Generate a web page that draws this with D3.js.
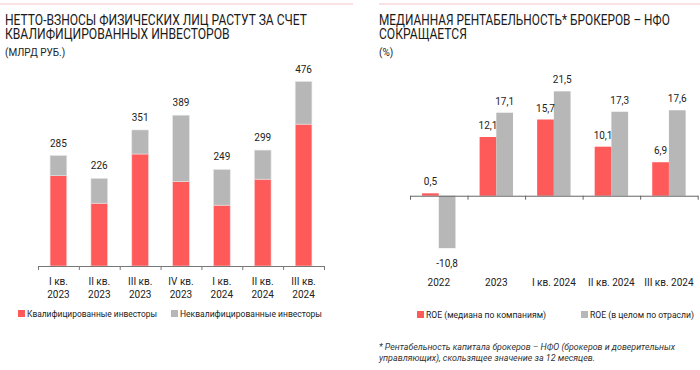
<!DOCTYPE html>
<html>
<head>
<meta charset="utf-8">
<script src="https://cdn.jsdelivr.net/npm/d3@7"></script>
<style>
  body { margin: 0; background: #fff; }
  text { font-family: Roboto, "Noto Sans", sans-serif; fill: #222; }
  .title { font-family: "Liberation Sans Narrow", Roboto, sans-serif; font-size: 14.5px; fill: #1a1a1a; }
  .unit { font-family: "Liberation Sans Narrow", Roboto, sans-serif; font-size: 10px; }
  .val { font-size: 10px; text-anchor: middle; }
  .tick-lbl { font-size: 10px; text-anchor: middle; }
  .legend { font-size: 9px; }
  .note { font-size: 9px; font-style: italic; fill: #333; }
</style>
</head>
<body>
<script>
// Left chart: net contributions of individuals (bln RUB)
let quarters = [["I кв.", "2023"], ["II кв.", "2023"], ["III кв.", "2023"], ["IV кв.", "2023"],
                ["I кв.", "2024"], ["II кв.", "2024"], ["III кв.", "2024"]];
let totals = [285, 226, 351, 389, 249, 299, 476];
let qualified = [233, 162, 289, 218, 157, 224, 366];
let unqualified = [52, 64, 62, 171, 92, 75, 110];

// Right chart: median ROE of brokers (%)
let periods = ["2022", "2023", "I кв. 2024", "II кв. 2024", "III кв. 2024"];
let roeMedian = [0.5, 12.1, 15.7, 10.1, 6.9];
let roeIndustry = [-10.8, 17.1, 21.5, 17.3, 17.6];

let red = "#ff5a5a";
let gray = "#b7b7b7";
let fmt = v => String(v).replace(".", ",");

let svg = d3.select("body")
            .append("svg")
            .attr("width", 700)
            .attr("height", 370);

// pink rules above titles
svg.append("line").attr("x1", 0).attr("x2", 353).attr("y1", 4).attr("y2", 4)
   .attr("stroke", "#f6c3c7").attr("stroke-width", 1.2);
svg.append("line").attr("x1", 379).attr("x2", 700).attr("y1", 4).attr("y2", 4)
   .attr("stroke", "#f6c3c7").attr("stroke-width", 1.2);

// titles, squeezed horizontally to the reference widths
let leftTitle = ["НЕТТО-ВЗНОСЫ ФИЗИЧЕСКИХ ЛИЦ РАСТУТ ЗА СЧЕТ", "КВАЛИФИЦИРОВАННЫХ ИНВЕСТОРОВ"];
let rightTitle = ["МЕДИАННАЯ РЕНТАБЕЛЬНОСТЬ* БРОКЕРОВ – НФО", "СОКРАЩАЕТСЯ"];
let leftWidths = [302, 225];
let rightWidths = [291, 88];

function titleLine(t, x, y, w) {
    let el = svg.append("text").attr("class", "title").attr("x", 0).attr("y", 0).text(t);
    let natural = el.node().getComputedTextLength();
    el.attr("transform", `translate(${x}, ${y}) scale(${w / natural}, 1)`);
}
leftTitle.forEach((t, i) => titleLine(t, 5, 25 + i * 14, leftWidths[i]));
rightTitle.forEach((t, i) => titleLine(t, 379, 25 + i * 14, rightWidths[i]));

svg.append("text").attr("class", "unit").attr("x", 5).attr("y", 56).text("(МЛРД РУБ.)");
svg.append("text").attr("class", "unit").attr("x", 379).attr("y", 56).text("(%)");

// ---------- left chart ----------
let xL = d3.scaleLinear().domain([0, quarters.length]).range([38, 324]);
let barW = 16.7;
let yL = d3.scaleLinear().domain([0, 500]).range([266, 72.2]);

let left = svg.append("g");

// qualified (red) segments
left.selectAll("rect.q")
    .data(qualified)
    .enter()
    .append("rect")
    .attr("class", "q")
    .attr("x", (d, i) => xL(i + 0.5) - barW / 2)
    .attr("width", barW)
    .attr("y", d => yL(d))
    .attr("height", d => yL(0) - yL(d))
    .attr("fill", red)
    .attr("stroke", "#ffd6d6")
    .attr("stroke-width", 0.6);

// unqualified (gray) segments
left.selectAll("rect.u")
    .data(unqualified)
    .enter()
    .append("rect")
    .attr("class", "u")
    .attr("x", (d, i) => xL(i + 0.5) - barW / 2)
    .attr("width", barW)
    .attr("y", (d, i) => yL(qualified[i] + d))
    .attr("height", (d, i) => yL(qualified[i]) - yL(qualified[i] + d))
    .attr("fill", gray)
    .attr("stroke", "#e4e4e4")
    .attr("stroke-width", 0.6);

// totals
left.selectAll("text.val")
    .data(totals)
    .enter()
    .append("text")
    .attr("class", "val")
    .attr("x", (d, i) => xL(i + 0.5))
    .attr("y", d => yL(d) - 9)
    .text(d => d);

// axis with ticks at category boundaries
let axisL = left.append("g")
    .attr("transform", `translate(0, ${yL(0)})`)
    .call(d3.axisBottom(xL).tickValues(d3.range(quarters.length + 1)).tickSize(4).tickSizeOuter(0).tickFormat(""));
axisL.selectAll("path, line").attr("stroke", "#777");

let qLabels = left.selectAll("text.tick-lbl")
    .data(quarters)
    .enter()
    .append("text")
    .attr("class", "tick-lbl")
    .attr("x", (d, i) => xL(i + 0.5))
    .attr("y", 285);
qLabels.append("tspan").attr("x", (d, i) => xL(i + 0.5)).text(d => d[0]);
qLabels.append("tspan").attr("x", (d, i) => xL(i + 0.5)).attr("dy", 12.5).text(d => d[1]);

// left legend
let legL = [["Квалифицированные инвесторы", red, 18, 130], ["Неквалифицированные инвесторы", gray, 171, 142]];
legL.forEach(l => {
    svg.append("rect").attr("x", l[2]).attr("y", 310).attr("width", 7).attr("height", 7).attr("fill", l[1]);
    svg.append("text").attr("class", "legend").attr("x", l[2] + 9).attr("y", 317)
       .attr("textLength", l[3]).attr("lengthAdjust", "spacingAndGlyphs").text(l[0]);
});

// ---------- right chart ----------
let xR = d3.scaleLinear().domain([0, periods.length]).range([410, 697.7]);
let yR = d3.scaleLinear().domain([-12, 24]).range([254, 79.2]);

let right = svg.append("g");

right.selectAll("rect.m")
     .data(roeMedian)
     .enter()
     .append("rect")
     .attr("class", "m")
     .attr("x", (d, i) => xR(i + 0.5) - barW)
     .attr("width", barW)
     .attr("y", d => yR(Math.max(0, d)))
     .attr("height", d => Math.abs(yR(d) - yR(0)))
     .attr("fill", red);

right.selectAll("rect.ind")
     .data(roeIndustry)
     .enter()
     .append("rect")
     .attr("class", "ind")
     .attr("x", (d, i) => xR(i + 0.5))
     .attr("width", barW)
     .attr("y", d => yR(Math.max(0, d)))
     .attr("height", d => Math.abs(yR(d) - yR(0)))
     .attr("fill", gray);

right.selectAll("text.vm")
     .data(roeMedian)
     .enter()
     .append("text")
     .attr("class", "val vm")
     .attr("x", (d, i) => xR(i + 0.5) - barW / 2)
     .attr("y", d => yR(d) - 8)
     .text(d => fmt(d));

right.selectAll("text.vi")
     .data(roeIndustry)
     .enter()
     .append("text")
     .attr("class", "val vi")
     .attr("x", (d, i) => xR(i + 0.5) + barW / 2)
     .attr("y", d => d < 0 ? yR(d) + 19 : yR(d) - 8)
     .text(d => fmt(d));

let axisR = right.append("g")
    .attr("transform", `translate(0, ${yR(0)})`)
    .call(d3.axisBottom(xR).tickValues(d3.range(periods.length + 1)).tickSize(4).tickSizeOuter(0).tickFormat(""));
axisR.selectAll("path, line").attr("stroke", "#666");

right.selectAll("text.tick-lbl")
     .data(periods)
     .enter()
     .append("text")
     .attr("class", "tick-lbl")
     .attr("x", (d, i) => xR(i + 0.5))
     .attr("y", 286)
     .text(d => d);

// right legend
let legR = [["ROE (медиана по компаниям)", red, 417, 120], ["ROE (в целом по отрасли)", gray, 581, 104]];
legR.forEach(l => {
    svg.append("rect").attr("x", l[2]).attr("y", 311).attr("width", 7).attr("height", 7).attr("fill", l[1]);
    svg.append("text").attr("class", "legend").attr("x", l[2] + 9).attr("y", 318)
       .attr("textLength", l[3]).attr("lengthAdjust", "spacingAndGlyphs").text(l[0]);
});

// footnote
svg.append("text").attr("class", "note").attr("x", 379).attr("y", 350)
   .attr("textLength", 296).attr("lengthAdjust", "spacingAndGlyphs")
   .text("* Рентабельность капитала брокеров – НФО (брокеров и доверительных");
svg.append("text").attr("class", "note").attr("x", 379).attr("y", 361)
   .attr("textLength", 216).attr("lengthAdjust", "spacingAndGlyphs")
   .text("управляющих), скользящее значение за 12 месяцев.");
</script>
</body>
</html>
